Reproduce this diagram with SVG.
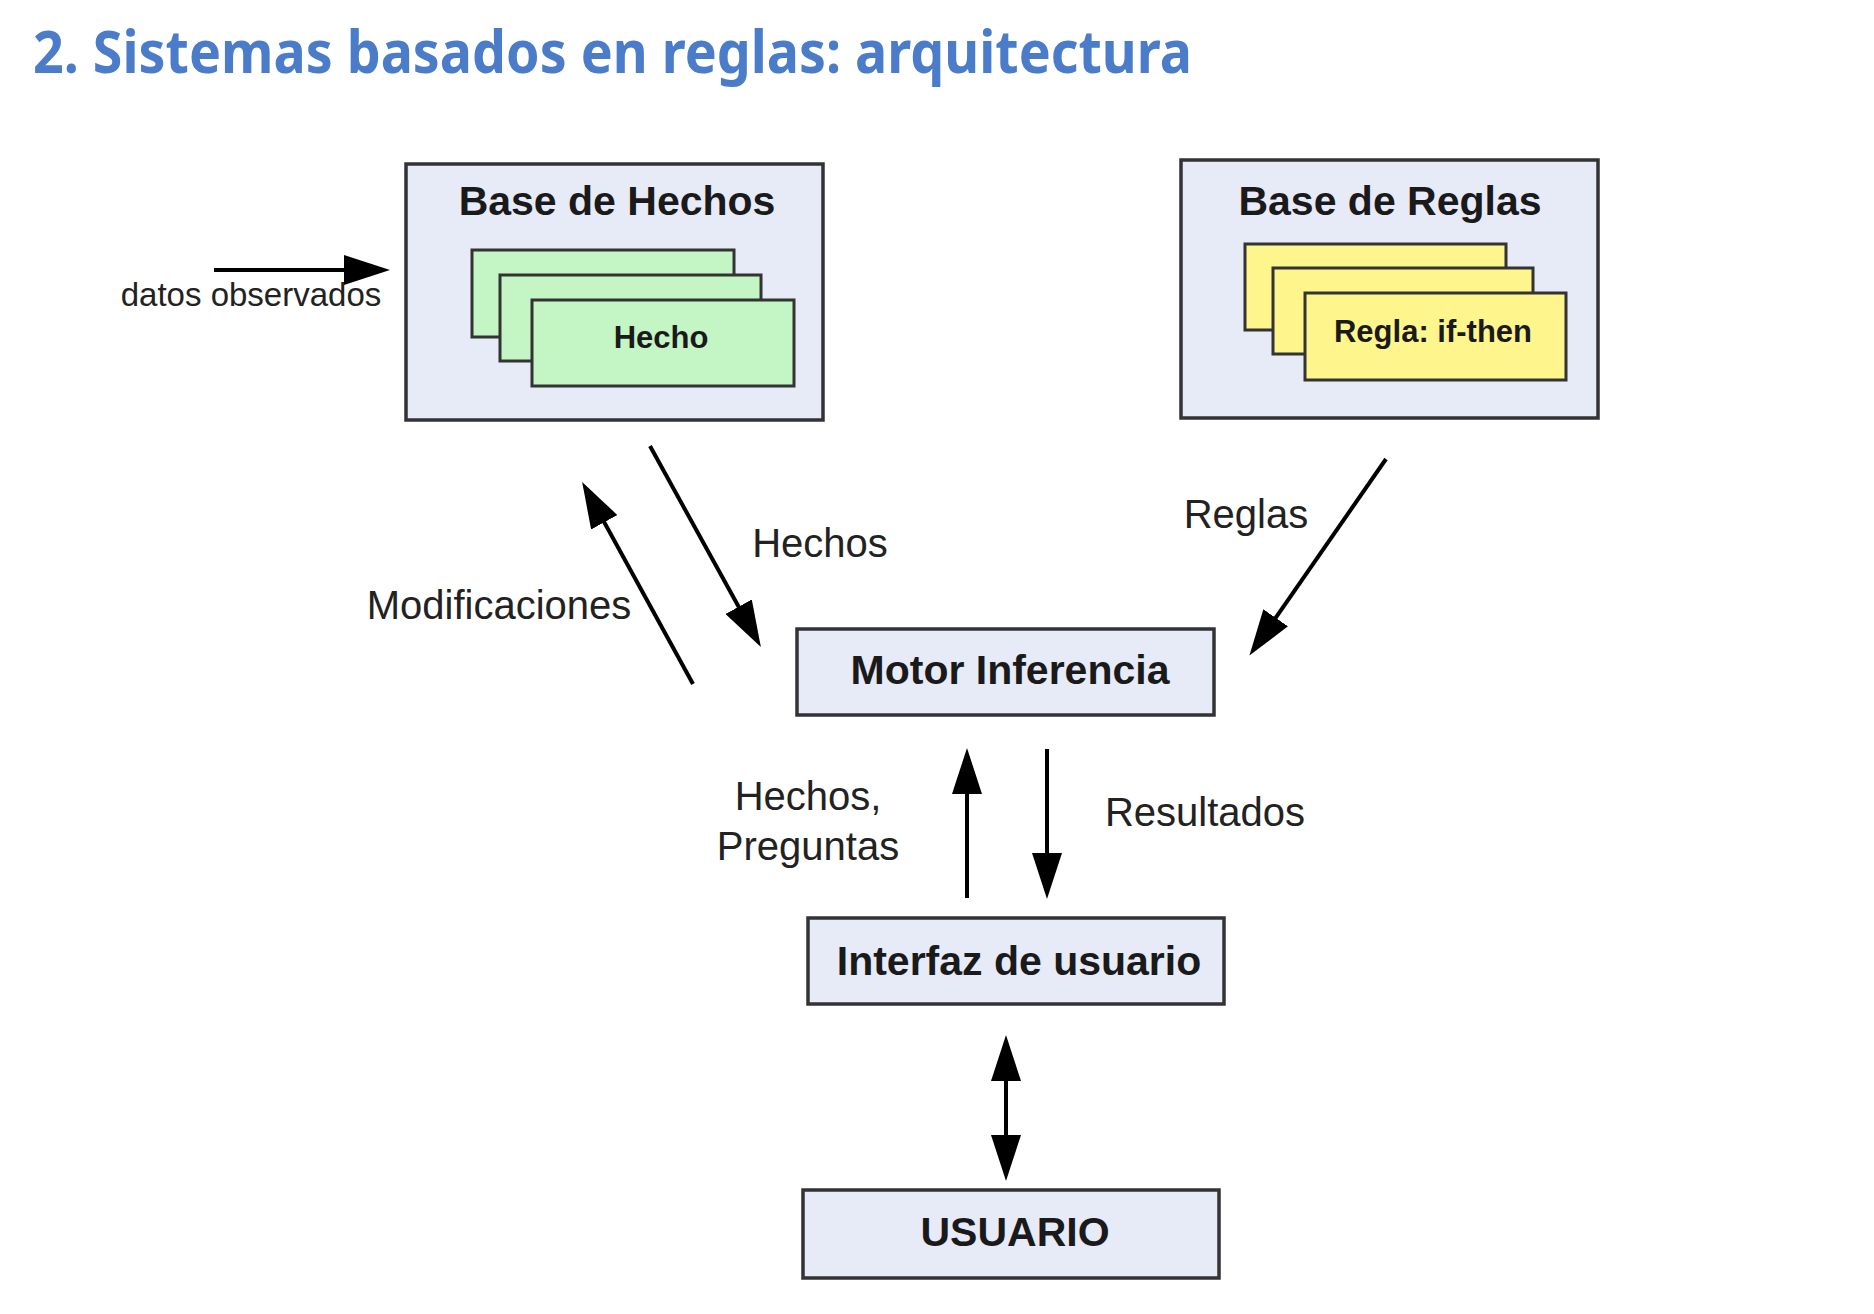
<svg xmlns="http://www.w3.org/2000/svg" width="1874" height="1314" viewBox="0 0 1874 1314">
<style>
.box{fill:#e7eaf7;stroke:#333;stroke-width:3.5}
.green{fill:#c4f5c4;stroke:#333;stroke-width:3}
.yellow{fill:#fef68c;stroke:#333;stroke-width:3}
.bt{font-family:"Liberation Sans",Arial,sans-serif;font-weight:bold;font-size:41px;fill:#1a1a1a;text-anchor:middle}
.ct{font-family:"Liberation Sans",Arial,sans-serif;font-weight:bold;font-size:31px;fill:#1a1a1a;text-anchor:middle}
.lb{font-family:"Liberation Sans",Arial,sans-serif;font-size:40px;fill:#222;text-anchor:middle}
.conn{stroke:#000;stroke-width:4;fill:none;marker-end:url(#ah)}
</style>
<defs>
<marker id="ah" markerUnits="userSpaceOnUse" markerWidth="46" markerHeight="30" refX="38" refY="15" orient="auto-start-reverse" viewBox="0 0 46 30">
<path d="M0,0 L46,15 L0,30 z" fill="#000"/>
</marker>
</defs>
<rect width="1874" height="1314" fill="#fff"/>
<text x="33" y="73" font-family="'Noto Sans','Open Sans',sans-serif" font-weight="bold" font-size="59" fill="#4a7cc9" textLength="1159" lengthAdjust="spacingAndGlyphs">2. Sistemas basados en reglas: arquitectura</text>

<g id="base-hechos">
<rect class="box" x="406" y="164" width="417" height="256"/>
<text class="bt" x="617" y="215">Base de Hechos</text>
<rect class="green" x="472" y="250" width="262" height="87"/>
<rect class="green" x="500" y="275" width="261" height="86"/>
<rect class="green" x="532" y="300" width="262" height="86"/>
<text class="ct" x="661" y="348">Hecho</text>
</g>

<g id="base-reglas">
<rect class="box" x="1181" y="160" width="417" height="258"/>
<text class="bt" x="1390" y="215">Base de Reglas</text>
<rect class="yellow" x="1245" y="244" width="261" height="86"/>
<rect class="yellow" x="1273" y="268" width="260" height="86"/>
<rect class="yellow" x="1305" y="293" width="261" height="87"/>
<text class="ct" x="1433" y="342">Regla: if-then</text>
</g>

<g id="motor">
<rect class="box" x="797" y="629" width="417" height="86"/>
<text class="bt" x="1010" y="684">Motor Inferencia</text>
</g>

<g id="interfaz">
<rect class="box" x="808" y="918" width="416" height="86"/>
<text class="bt" x="1019" y="975">Interfaz de usuario</text>
</g>

<g id="usuario">
<rect class="box" x="803" y="1190" width="416" height="88"/>
<text class="bt" x="1015" y="1246">USUARIO</text>
</g>

<g id="connectors">
<line class="conn" x1="214" y1="270" x2="382" y2="270"/>
<line class="conn" x1="650" y1="446" x2="757" y2="640"/>
<line class="conn" x1="693" y1="684" x2="586" y2="489"/>
<line class="conn" x1="1386" y1="459" x2="1254" y2="649"/>
<line class="conn" x1="967" y1="898" x2="967" y2="756"/>
<line class="conn" x1="1047" y1="749" x2="1047" y2="891"/>
<line class="conn" x1="1006" y1="1043" x2="1006" y2="1173" style="marker-start:url(#ah)"/>
</g>

<g id="labels">
<text x="251" y="306" font-family="'Liberation Sans',Arial,sans-serif" font-size="33" fill="#222" text-anchor="middle">datos observados</text>
<text class="lb" x="820" y="557">Hechos</text>
<text class="lb" x="499" y="619">Modificaciones</text>
<text class="lb" x="1246" y="528">Reglas</text>
<text class="lb" x="808" y="810">Hechos,</text>
<text class="lb" x="808" y="860">Preguntas</text>
<text class="lb" x="1205" y="826">Resultados</text>
</g>
</svg>
